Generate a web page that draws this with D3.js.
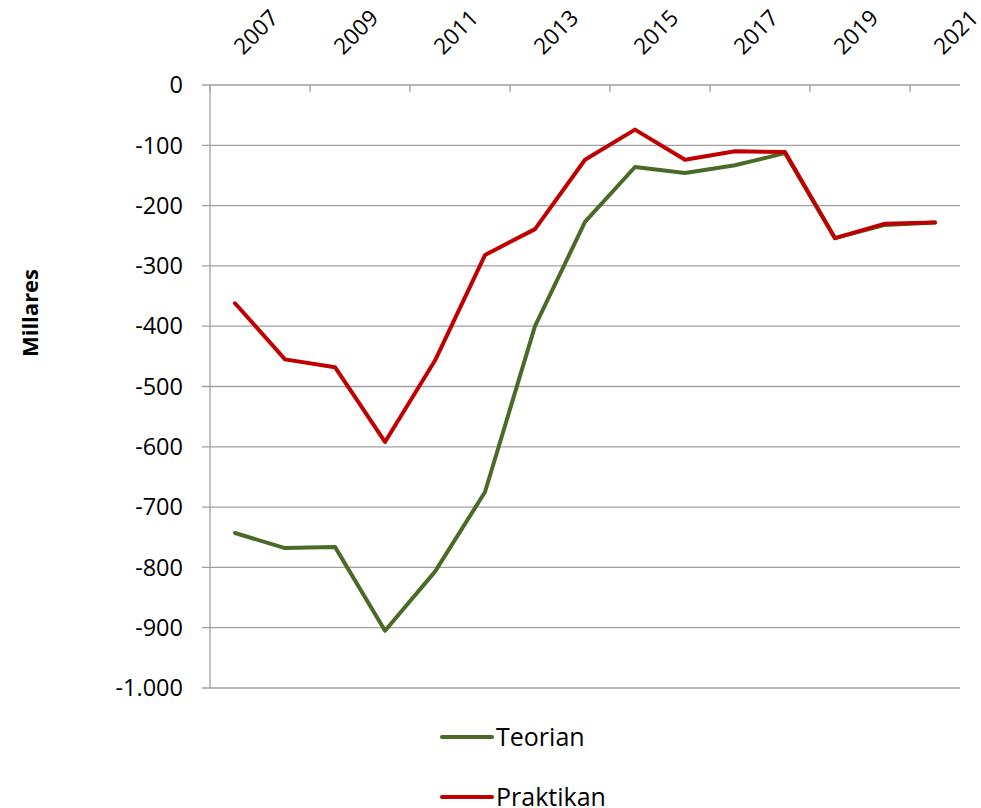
<!DOCTYPE html>
<meta charset="utf-8">
<style>
body { margin: 0; background: white; }
text { font-family: "Open Sans", "Noto Sans", sans-serif; fill: #000; }
</style>
<body>
<script src="https://cdn.jsdelivr.net/npm/d3@7"></script>
<script>

////*Data*////
const years = [2007, 2008, 2009, 2010, 2011, 2012, 2013, 2014, 2015, 2016, 2017, 2018, 2019, 2020, 2021];
const teorian = [-743, -768, -766, -905, -807, -675, -400, -227, -136, -146, -133, -113, -254, -232, -228];
const praktikan = [-362, -455, -468, -592, -457, -282, -239, -124, -74, -124, -110, -111, -254, -230, -228];
const yTicks = [0, -100, -200, -300, -400, -500, -600, -700, -800, -900, -1000];
const seriesNames = ["Teorian", "Praktikan"];
const seriesColors = ["#4a6b27", "#c00000"];

////*Layout*////
const plotVars = ({
   width: 981,
   height: 808,
   left: 210,
   right: 960,
   top: 85,
   bottom: 688
});

const esLocale = d3.formatLocale({ decimal: ",", thousands: ".", grouping: [3], currency: ["", " €"], minus: "-" });
const fmt = esLocale.format(",d");

const xScale = d3.scaleBand()
   .domain(years)
   .range([plotVars.left, plotVars.right]);

// band edges, for the tick marks between categories
const xEdge = d3.scaleLinear()
   .domain([0, years.length])
   .range([plotVars.left, plotVars.right]);

const yScale = d3.scaleLinear()
   .domain([0, -1000])
   .range([plotVars.top, plotVars.bottom]);

const svg = d3.select("body")
   .append("svg")
   .attr("width", plotVars.width)
   .attr("height", plotVars.height);

////*Grid and axes*////
svg.append("g")
   .selectAll("line")
   .data(yTicks)
   .join("line")
   .attr("x1", plotVars.left - 8)
   .attr("x2", plotVars.right)
   .attr("y1", d => yScale(d))
   .attr("y2", d => yScale(d))
   .attr("stroke", "#a0a0a0")
   .attr("stroke-width", 1.3);

svg.append("line")
   .attr("x1", plotVars.left).attr("x2", plotVars.left)
   .attr("y1", plotVars.top).attr("y2", plotVars.bottom)
   .attr("stroke", "#a0a0a0")
   .attr("stroke-width", 1.3);

svg.append("g")
   .selectAll("line")
   .data(d3.range(0, years.length, 2))
   .join("line")
   .attr("x1", d => xEdge(d)).attr("x2", d => xEdge(d))
   .attr("y1", plotVars.top).attr("y2", plotVars.top + 7)
   .attr("stroke", "#a0a0a0")
   .attr("stroke-width", 1.3);

svg.append("g")
   .selectAll("text")
   .data(yTicks)
   .join("text")
   .attr("x", plotVars.left - 27)
   .attr("y", d => yScale(d))
   .attr("dy", "0.35em")
   .attr("text-anchor", "end")
   .style("font-size", "23.5px")
   .text(d => fmt(d));

svg.append("g")
   .selectAll("text")
   .data(years.filter((d, i) => i % 2 === 0))
   .join("text")
   .attr("transform", d => `translate(${xScale(d) + xScale.bandwidth() / 2 + 21}, 32) rotate(-45)`)
   .attr("dy", "0.35em")
   .attr("text-anchor", "middle")
   .style("font-size", "22.5px")
   .text(d => d);

svg.append("text")
   .attr("transform", "translate(30, 313) rotate(-90)")
   .attr("dy", "0.35em")
   .attr("text-anchor", "middle")
   .style("font-size", "22px")
   .style("font-weight", "bold")
   .text("Millares");

////*Lines*////
const line = d3.line()
   .x((d, i) => xScale(years[i]) + xScale.bandwidth() / 2)
   .y(d => yScale(d));

[teorian, praktikan].forEach(function(series, k) {
   svg.append("path")
      .attr("d", line(series))
      .attr("fill", "none")
      .attr("stroke", seriesColors[k])
      .attr("stroke-width", 4)
      .attr("stroke-linejoin", "round")
      .attr("stroke-linecap", "round");
});

////*Legend*////
const legend = svg.append("g")
   .selectAll("g")
   .data(seriesNames)
   .join("g")
   .attr("transform", (d, i) => `translate(440, ${737 + i * 60})`);

legend.append("line")
   .attr("x1", 2).attr("x2", 52)
   .attr("stroke", (d, i) => seriesColors[i])
   .attr("stroke-width", 4)
   .attr("stroke-linecap", "round");

legend.append("text")
   .attr("x", 56)
   .attr("dy", "0.35em")
   .style("font-size", "25px")
   .text(d => d);

</script>
</body>
</html>
